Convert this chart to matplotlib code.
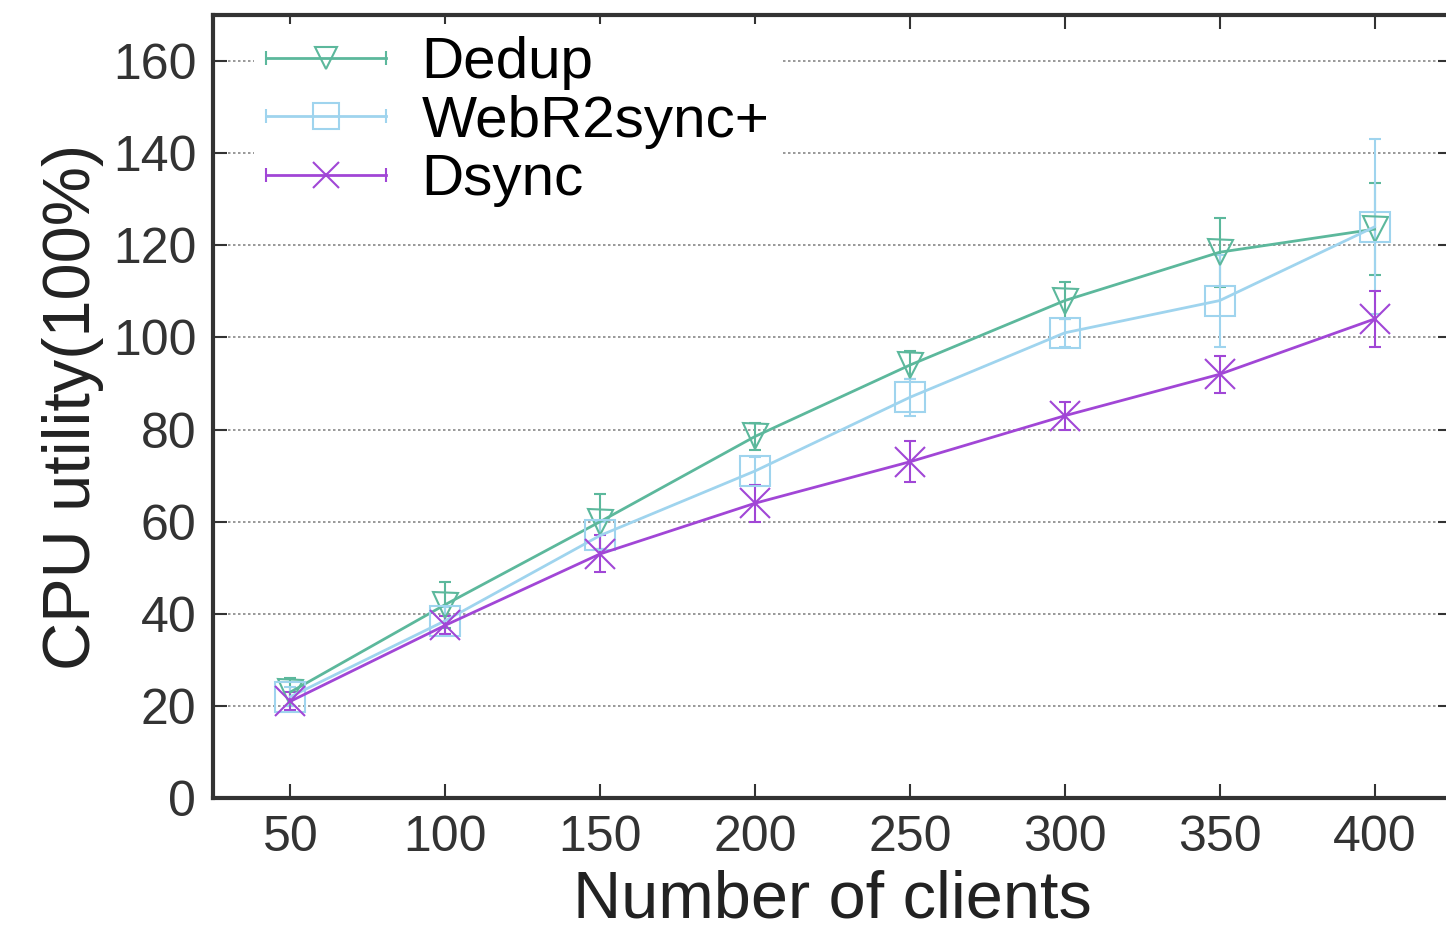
import numpy as np
import matplotlib
matplotlib.use("Agg")
import matplotlib.pyplot as plt
from matplotlib.lines import Line2D
from matplotlib.legend_handler import HandlerLine2D, HandlerTuple

plt.rcParams['font.family'] = ['Liberation Sans', 'DejaVu Sans']

clients = [50, 100, 150, 200, 250, 300, 350, 400]

dedup = [23, 42, 60, 78.5, 94, 108, 118.5, 123.5]
dedup_err = [3, 5, 6, 3, 3, 4, 7.5, 10]

webr2 = [22, 38.5, 57, 71, 87, 101, 108, 124]
webr2_err = [2, 3, 3, 3, 4, 3, 10, 19]

dsync = [21, 37.5, 53, 64, 73, 83, 92, 104]
dsync_err = [2, 2, 4, 4, 4.5, 3, 4, 6]

names = ['Dedup', 'WebR2sync+', 'Dsync']
colors = ['#5cb89c', '#9fd4ee', '#a146d6']
markers = ['v', 's', 'x']
msizes = [18, 22, 22]

fig = plt.figure(figsize=(14.46, 9.52), dpi=100)
ax = fig.add_axes([213/1446, 1 - 798/952, (1452 - 213)/1446, (798 - 15)/952])

series = [(dedup, dedup_err), (webr2, webr2_err), (dsync, dsync_err)]
handles = []
hmap = {}
for (vals, err), name, c, m, ms in zip(series, names, colors, markers, msizes):
    ax.errorbar(clients, vals, yerr=err, color=c, marker=m, markersize=ms,
                markerfacecolor='none', markeredgewidth=1.5, linewidth=2,
                elinewidth=1.5, capsize=4, zorder=3)
    # legend entry: gnuplot style, line with caps at both ends
    main = Line2D([], [], color=c, marker=m, markersize=ms * 0.85,
                  markerfacecolor='none', markeredgewidth=1.5, linewidth=2)
    caps = Line2D([], [], color=c, marker='|', markersize=10,
                  markeredgewidth=1.5, linestyle='none')
    hmap[caps] = HandlerLine2D(numpoints=2, marker_pad=0)
    handles.append((main, caps))
hmap[tuple] = HandlerTuple(ndivide=1, pad=0)

ax.set_xlim(25, 425)
ax.set_ylim(0, 170)
ax.set_xticks(clients)
ax.set_yticks(np.arange(0, 161, 20))

ax.yaxis.grid(True, linestyle=(0, (1.5, 1.5)), color='#888888', linewidth=1.2)
ax.set_axisbelow(True)

ax.tick_params(direction='in', length=10, width=1.5, labelsize=36,
               colors='#333333', top=True, right=True, pad=12)
for s in ax.spines.values():
    s.set_linewidth(3)
    s.set_color('#333333')

ax.set_xlabel('Number of clients', fontsize=48, color='#222222', labelpad=6)
ax.set_ylabel('CPU utility(100%)', fontsize=48, color='#222222', labelpad=6)

leg = ax.legend(handles, names, handler_map=hmap, loc='upper left',
                fontsize=42, frameon=True, framealpha=1, edgecolor='white',
                handlelength=2.07, handletextpad=0.6, labelspacing=0.08,
                borderpad=0.2, borderaxespad=0, bbox_to_anchor=(0.033, 0.988))
leg.get_frame().set_linewidth(0)

fig.savefig('out.png', dpi=100)
